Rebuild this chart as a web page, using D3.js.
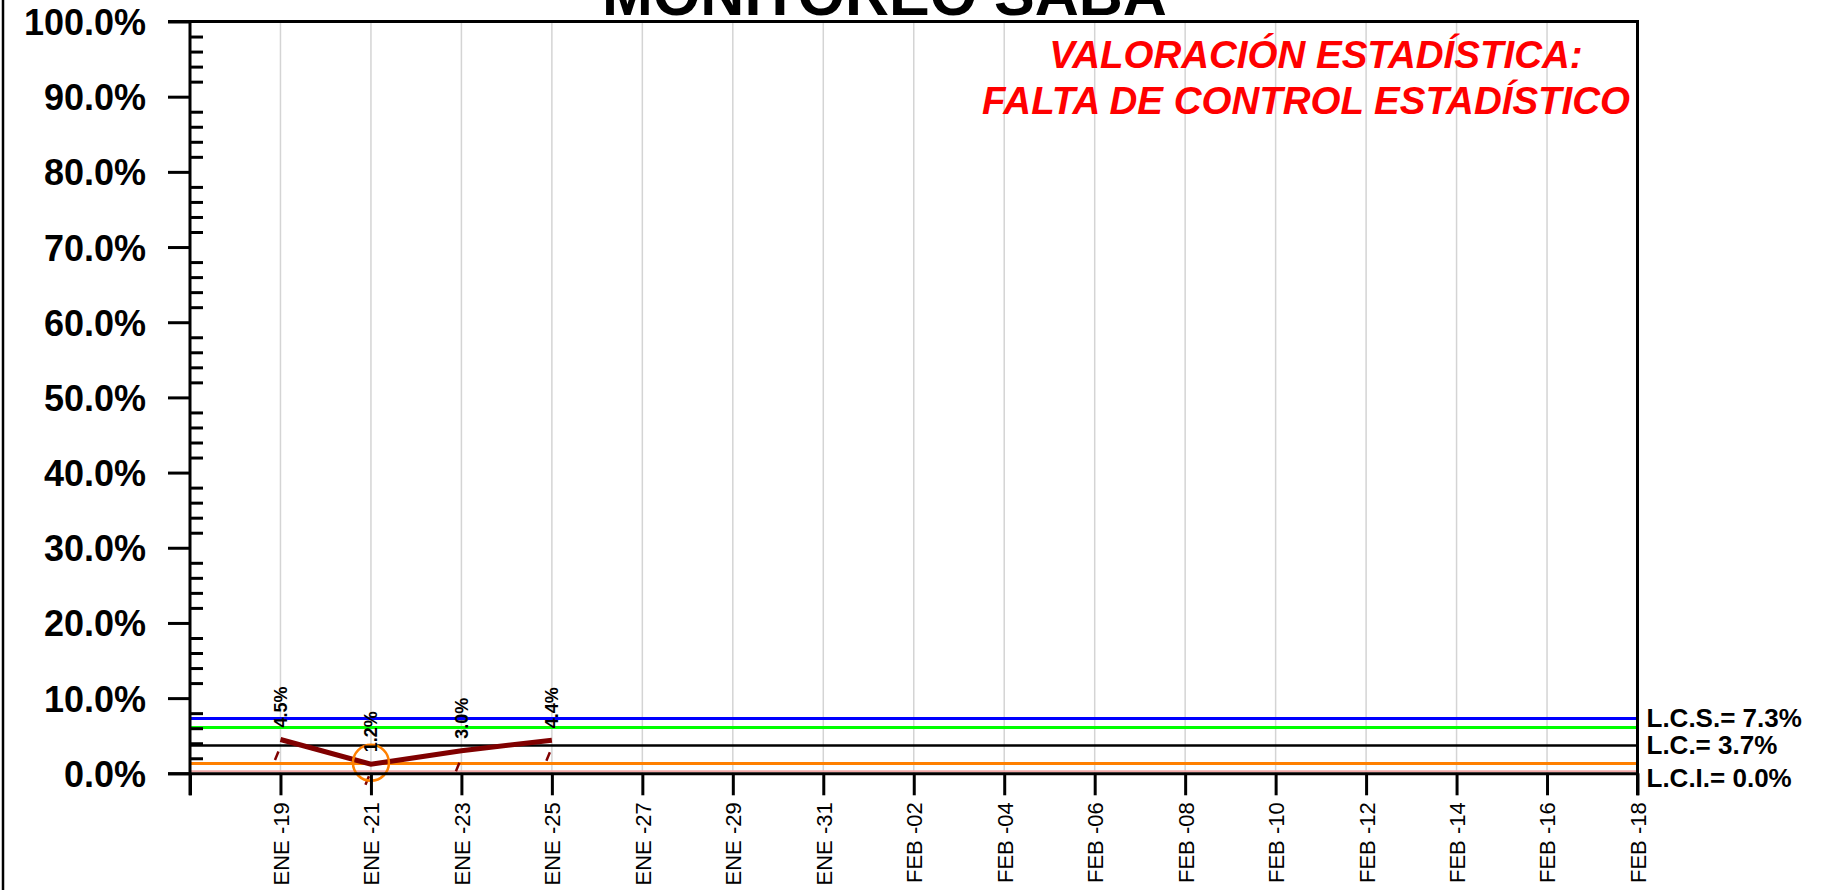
<!DOCTYPE html>
<html>
<head>
<meta charset="utf-8">
<script src="https://cdn.jsdelivr.net/npm/d3@7"></script>
<style>
  html, body { margin: 0; padding: 0; background: #fff; }
  svg { display: block; font-family: "Liberation Sans", Arial, sans-serif; }
</style>
</head>
<body>
<svg id="chart" width="1822" height="890"></svg>
<script>
// ---- data ----
const title = "MONITOREO SABA";
const verdictLines = ["VALORACIÓN ESTADÍSTICA:", "FALTA DE CONTROL ESTADÍSTICO"];
const xTickLabels = ["ENE -19","ENE -21","ENE -23","ENE -25","ENE -27","ENE -29","ENE -31",
  "FEB -02","FEB -04","FEB -06","FEB -08","FEB -10","FEB -12","FEB -14","FEB -16","FEB -18"];
const pointDates = ["ENE -19","ENE -21","ENE -23","ENE -25"];
const pointValues = [4.5, 1.2, 3.0, 4.4];
const yTicks = [0,10,20,30,40,50,60,70,80,90,100];
const yMinorTicks = [2,4,6,8,12,14,16,18,22,24,26,28,32,34,36,38,42,44,46,48,52,54,56,58,62,64,66,68,72,74,76,78,82,84,86,88,92,94,96,98];
const limitNames = ["LCS","UW","LC","LW","LCI"];
const limitValues = [7.3, 6.1, 3.7, 1.3, 0.0];
const limitLabels = ["L.C.S.= 7.3%", null, "L.C.= 3.7%", null, "L.C.I.= 0.0%"];

(function () {
// ---- styles ----
const limitColors = { LCS: "#0000ff", UW: "#00ff00", LC: "#000000", LW: "#ff8000", LCI: "#f2a9a9" };
const limitWidths = { LCS: 3, UW: 3, LC: 2.5, LW: 3, LCI: 2 };
const limitLabelDy = { LCS: 8.7, LC: 8.5, LCI: 13.4 };
const verdictX = [1316, 1306];

const svg = d3.select("#chart");
const pLeft = 190, pRight = 1637.5, pTop = 21.5, pBottom = 773.3;

const x = d3.scaleLinear().domain([0, xTickLabels.length]).range([pLeft, pRight]);
const xOf = lbl => x(xTickLabels.indexOf(lbl) + 1);
const y = d3.scaleLinear().domain([0, 100]).range([pBottom, pTop]);

// left border
svg.append("line").attr("x1", 3).attr("x2", 3).attr("y1", 0).attr("y2", 890)
  .attr("stroke", "#000").attr("stroke-width", 2.5);

// vertical gridlines
svg.append("g").selectAll("line").data(xTickLabels).join("line")
  .attr("x1", d => xOf(d)).attr("x2", d => xOf(d))
  .attr("y1", pTop).attr("y2", pBottom)
  .attr("stroke", "#d4d4d4").attr("stroke-width", 1.5);

// limit lines
svg.append("g").selectAll("line").data(limitNames).join("line")
  .attr("x1", pLeft).attr("x2", pRight)
  .attr("y1", (d, i) => y(limitValues[i]) - (d === "LCI" ? 2 : 0))
  .attr("y2", (d, i) => y(limitValues[i]) - (d === "LCI" ? 2 : 0))
  .attr("stroke", d => limitColors[d]).attr("stroke-width", d => limitWidths[d]);

// limit labels
svg.append("g").selectAll("text").data(limitNames.filter((d, i) => limitLabels[i]))
  .join("text")
  .attr("x", pRight + 9)
  .attr("y", d => y(limitValues[limitNames.indexOf(d)]) + limitLabelDy[d])
  .attr("font-size", 26).attr("font-weight", "bold").attr("fill", "#000")
  .text(d => limitLabels[limitNames.indexOf(d)]);

// data line
const pts = pointDates.map((d, i) => [xOf(d), y(pointValues[i])]);
svg.append("path").attr("d", d3.line()(pts))
  .attr("fill", "none").attr("stroke", "#800000").attr("stroke-width", 5);

// small slanted marks below points
svg.append("g").selectAll("line").data(pts).join("line")
  .attr("x1", d => d[0] - 5.5).attr("y1", d => d[1] + 20.5)
  .attr("x2", d => d[0] - 2).attr("y2", d => d[1] + 12)
  .attr("stroke", "#800000").attr("stroke-width", 2.5);

// out-of-control circle (below lower warning limit)
const lw = limitValues[limitNames.indexOf("LW")];
svg.append("g").selectAll("circle")
  .data(pointValues.map((v, i) => ({ v, i })).filter(d => d.v < lw)).join("circle")
  .attr("cx", d => pts[d.i][0]).attr("cy", d => pts[d.i][1] - 1.5).attr("r", 18)
  .attr("fill", "none").attr("stroke", "#ff8000").attr("stroke-width", 2.5);

// point labels
svg.append("g").selectAll("text").data(pointValues).join("text")
  .attr("transform", (d, i) => `translate(${pts[i][0]},${pts[i][1] - 12}) rotate(-90)`)
  .attr("dy", "0.35em").attr("text-anchor", "start")
  .attr("font-size", 18).attr("font-weight", "bold").attr("fill", "#000")
  .text(d => d.toFixed(1) + "%");

// y axis major ticks with labels
const yAxis = d3.axisLeft(y).tickValues(yTicks).tickSize(22).tickPadding(22)
  .tickFormat(d => d.toFixed(1) + "%");
const gy = svg.append("g").attr("transform", `translate(${pLeft},0)`).call(yAxis);
gy.select(".domain").remove();
gy.selectAll(".tick line").attr("stroke", "#000").attr("stroke-width", 3);
gy.selectAll(".tick text").attr("font-size", 36).attr("font-weight", "bold")
  .attr("fill", "#000").attr("font-family", "'Liberation Sans', Arial, sans-serif").attr("dy", "0.36em");

// y minor ticks (inward)
const yMinor = d3.axisRight(y).tickValues(yMinorTicks).tickSize(13).tickFormat("");
const gym = svg.append("g").attr("transform", `translate(${pLeft},0)`).call(yMinor);
gym.select(".domain").remove();
gym.selectAll(".tick line").attr("stroke", "#000").attr("stroke-width", 3);

// x axis ticks + labels
const xAxis = d3.axisBottom(x).tickValues(d3.range(0, xTickLabels.length + 1))
  .tickSize(22).tickPadding(13).tickFormat(i => i === 0 ? "" : xTickLabels[i - 1]);
const gx = svg.append("g").attr("transform", `translate(0,${pBottom})`).call(xAxis);
gx.select(".domain").remove();
gx.selectAll(".tick line").attr("stroke", "#000").attr("stroke-width", 3);
gx.selectAll(".tick text")
  .attr("font-size", 22).attr("fill", "#000")
  .attr("font-family", "'Liberation Sans', Arial, sans-serif")
  .attr("text-anchor", "end")
  .attr("transform", "rotate(-90)")
  .attr("x", -29).attr("y", 0).attr("dy", "0.36em");

// axis lines and frame
svg.append("line").attr("x1", pLeft).attr("x2", pLeft).attr("y1", pTop - 1.5).attr("y2", pBottom + 22)
  .attr("stroke", "#000").attr("stroke-width", 3);
svg.append("line").attr("x1", pLeft - 22).attr("x2", pRight).attr("y1", pBottom + 0.5).attr("y2", pBottom + 0.5)
  .attr("stroke", "#000").attr("stroke-width", 3);
svg.append("line").attr("x1", pLeft - 22).attr("x2", pRight + 1.5).attr("y1", pTop).attr("y2", pTop)
  .attr("stroke", "#000").attr("stroke-width", 3);
svg.append("line").attr("x1", pRight).attr("x2", pRight).attr("y1", pTop).attr("y2", pBottom + 22)
  .attr("stroke", "#000").attr("stroke-width", 3);

// title
svg.append("text").attr("x", 884.5).attr("y", 15).attr("text-anchor", "middle")
  .attr("font-size", 61).attr("font-weight", "bold").attr("fill", "#000").text(title);

// verdict
svg.append("g").selectAll("text").data(verdictLines).join("text")
  .attr("x", (d, i) => verdictX[i]).attr("y", (d, i) => 68 + i * 46).attr("text-anchor", "middle")
  .attr("font-size", 38.5).attr("font-weight", "bold").attr("font-style", "italic")
  .attr("fill", "#ff0000").text(d => d);
})();
</script>
</body>
</html>
